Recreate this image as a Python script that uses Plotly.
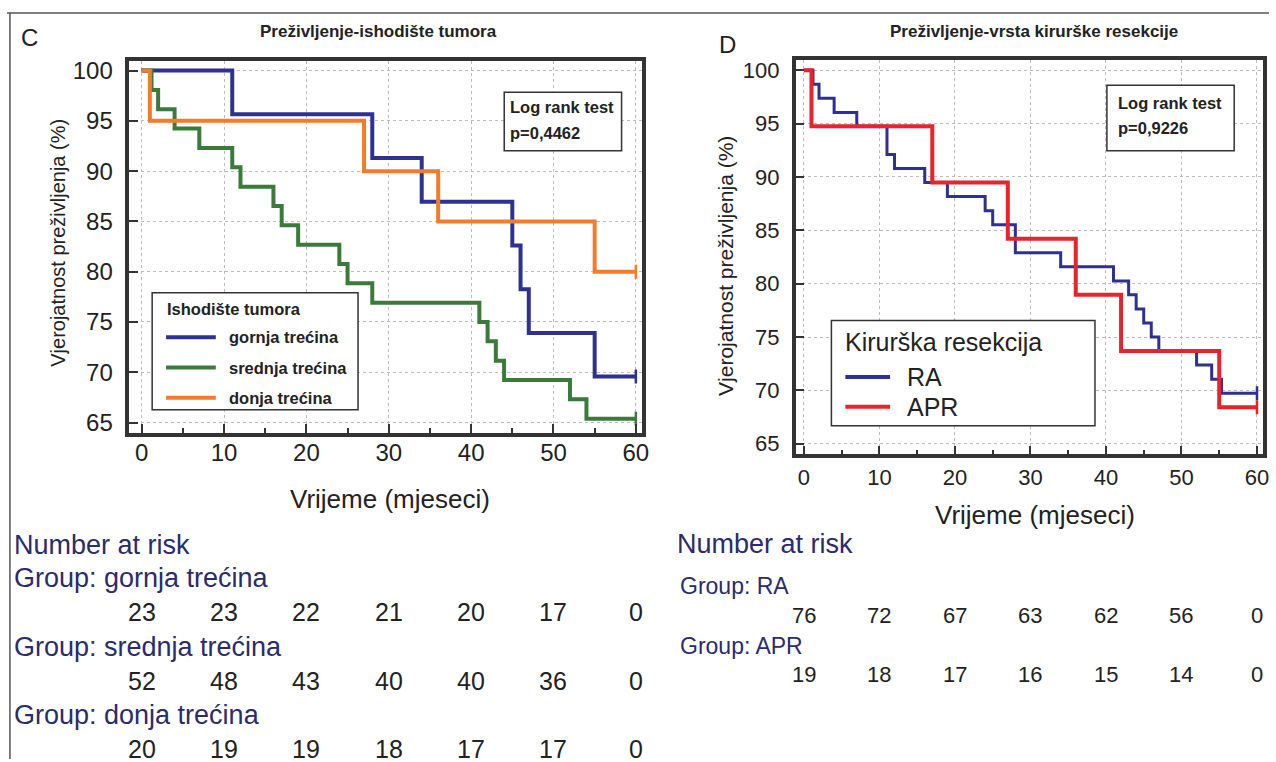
import plotly.graph_objects as go

W, H = 1276, 762

# ---------------- data ----------------
months_ticks = [0, 10, 20, 30, 40, 50, 60]

# Panel C: tumour location (KM step data, months / survival %)
gornja_t = [0, 11, 28, 34, 45, 46, 47, 55, 60]
gornja_s = [100, 95.65, 91.30, 86.96, 82.61, 78.26, 73.91, 69.57, 69.57]

srednja_t = [0, 1.2, 2, 4, 7, 11, 12, 16, 17, 19, 24, 25, 28, 41, 42, 43, 44, 52, 54, 60]
srednja_s = [100, 98.08, 96.15, 94.23, 92.31, 90.38, 88.46, 86.54, 84.62, 82.69,
             80.77, 78.85, 76.92, 75.0, 73.08, 71.15, 69.23, 67.31, 65.38, 65.38]

donja_t = [0, 1, 27, 36, 55, 60]
donja_s = [100, 95, 90, 85, 80, 80]

risk_gornja = [23, 23, 22, 21, 20, 17, 0]
risk_srednja = [52, 48, 43, 40, 40, 36, 0]
risk_donja = [20, 19, 19, 18, 17, 17, 0]

# Panel D: type of surgical resection
ra_t = [0, 1.2, 2, 4, 7, 11, 12, 16, 19, 24, 25, 28, 34, 41, 43, 44, 45, 46, 47, 52, 54, 55.3, 60]
ra_s = [100, 98.68, 97.37, 96.05, 94.74, 92.11, 90.79, 89.47, 88.16, 86.84, 85.53, 82.89,
        81.58, 80.26, 78.95, 77.63, 76.32, 75.0, 73.68, 72.37, 71.05, 69.74, 69.74]

apr_t = [0, 1, 17, 27, 36, 42, 55, 60]
apr_s = [100, 94.74, 89.47, 84.21, 78.95, 73.68, 68.42, 68.42]

risk_ra = [76, 72, 67, 63, 62, 56, 0]
risk_apr = [19, 18, 17, 16, 15, 14, 0]

names_c = ["gornja trećina", "srednja trećina", "donja trećina"]
names_d = ["RA", "APR"]
colors_c = ["#2e3192", "#3b7a3b", "#f47b2a"]
colors_d = ["#2e3192", "#e8232a"]

# ---------------- helpers ----------------
FONT = "Liberation Sans, Arial, sans-serif"
NARROW = "Liberation Sans Narrow, Arial Narrow, Liberation Sans, sans-serif"
NAVY = "#2b2b6e"
DARK = "#333333"


def X(px):
    return px / W


def Y(py):
    return 1 - py / H


fig = go.Figure()

series_c = [(gornja_t, gornja_s), (srednja_t, srednja_s), (donja_t, donja_s)]
for (t, s), nm, col in zip(series_c, names_c, colors_c):
    fig.add_trace(go.Scatter(x=t, y=s, mode="lines", line=dict(shape="hv", color=col, width=4),
                             name=nm, showlegend=False, xaxis="x", yaxis="y"))
    fig.add_trace(go.Scatter(x=t[-1:], y=s[-1:], mode="markers",
                             marker=dict(symbol="line-ns", size=10, line=dict(color=col, width=2.5)),
                             showlegend=False, hoverinfo="skip", xaxis="x", yaxis="y"))

series_d = [(ra_t, ra_s), (apr_t, apr_s)]
for (t, s), nm, col, lw in zip(series_d, names_d, colors_d, [3, 4]):
    fig.add_trace(go.Scatter(x=t, y=s, mode="lines", line=dict(shape="hv", color=col, width=lw),
                             name=nm, showlegend=False, xaxis="x2", yaxis="y2"))
    fig.add_trace(go.Scatter(x=t[-1:], y=s[-1:], mode="markers",
                             marker=dict(symbol="line-ns", size=10, line=dict(color=col, width=2.5)),
                             showlegend=False, hoverinfo="skip", xaxis="x2", yaxis="y2"))


def xaxis_cfg(domain, rng, fsize, anchor, standoff):
    return dict(domain=domain, range=rng, tickvals=months_ticks, ticks="inside", ticklen=9,
                tickwidth=2, tickcolor=DARK, showline=True, mirror=True, linewidth=3.5,
                linecolor=DARK, showgrid=True, gridcolor="#bdbdbd", griddash="dot", gridwidth=1,
                zeroline=False, tickfont=dict(family=FONT, size=fsize, color="#222"),
                ticklabelstandoff=standoff, anchor=anchor,
                minor=dict(dtick=5, tick0=0, ticks="inside", ticklen=5, tickwidth=2,
                           tickcolor=DARK, showgrid=False))


def yaxis_cfg(domain, fsize, anchor):
    return dict(domain=domain, range=[64, 101], tickvals=[65, 70, 75, 80, 85, 90, 95, 100],
                ticks="inside", ticklen=9, tickwidth=2, tickcolor=DARK, showline=True, mirror=True,
                linewidth=3.5, linecolor=DARK, showgrid=True, gridcolor="#bdbdbd", griddash="dot",
                gridwidth=1, zeroline=False, tickfont=dict(family=FONT, size=fsize, color="#222"),
                ticklabelstandoff=8, anchor=anchor)


fig.update_layout(
    width=W, height=H, margin=dict(l=0, r=0, t=0, b=0), autosize=False,
    paper_bgcolor="white", plot_bgcolor="white", showlegend=False,
    xaxis=xaxis_cfg([X(130), X(646)], [-1.5, 60.8], 24, "y", -4),
    yaxis=yaxis_cfg([Y(433), Y(58)], 24, "x"),
    xaxis2=xaxis_cfg([X(800), X(1270)], [-1.1, 60.8], 22, "y2", 0),
    yaxis2=yaxis_cfg([Y(455), Y(57)], 22, "x2"),
)

ann = []
shapes = []


def text(px, py, s, size, color="#222", bold=False, family=FONT, xanchor="left", angle=0, xref="paper", xval=None):
    ann.append(dict(x=xval if xval is not None else X(px), y=Y(py), xref=xref, yref="paper",
                    text=s, showarrow=False, xanchor=xanchor, yanchor="middle", textangle=angle,
                    font=dict(family=family, size=size, color=color,
                              weight="bold" if bold else "normal")))


def rect(x0, y0, x1, y1, width=1.5):
    shapes.append(dict(type="rect", xref="paper", yref="paper", x0=X(x0), x1=X(x1), y0=Y(y1), y1=Y(y0),
                       line=dict(color=DARK, width=width), fillcolor="white", layer="above"))


def seg(x0, y0, x1, y1, color, width):
    shapes.append(dict(type="line", xref="paper", yref="paper", x0=X(x0), x1=X(x1), y0=Y(y0), y1=Y(y1),
                       line=dict(color=color, width=width), layer="above"))


# outer frame
seg(10, 10, 10, 762, "#555", 1.5)
seg(7, 10, 1276, 10, "#555", 1.5)

# panel labels and titles
text(30, 35, "C", 24, color="#222", family=NARROW, xanchor="center")
text(732, 42, "D", 24, color="#222", family=NARROW, xanchor="center")
text(381, 29, "Preživljenje-ishodište tumora", 17, bold=True, family=NARROW, xanchor="center")
text(1040, 29, "Preživljenje-vrsta kirurške resekcije", 17, bold=True, family=NARROW, xanchor="center")

# axis titles
text(392, 500, "Vrijeme (mjeseci)", 26, xanchor="center")
text(1041, 516, "Vrijeme (mjeseci)", 26, xanchor="center")
text(58, 242, "Vjerojatnost preživljenja (%)", 20, xanchor="center", angle=-90)
text(730, 265, "Vjerojatnost preživljenja (%)", 21, xanchor="center", angle=-90)

# log rank boxes
rect(507, 90, 625, 149)
text(511, 105, "Log rank test", 16.5, bold=True)
text(511, 131, "p=0,4462", 16.5, bold=True)
rect(1113, 83, 1241, 149)
text(1122, 101, "Log rank test", 16.5, bold=True)
text(1122, 126, "p=0,9226", 16.5, bold=True)

# legend C
rect(153, 292, 360, 410)
text(166, 308, "Ishodište tumora", 16.5, bold=True)
for i, (nm, col) in enumerate(zip(names_c, colors_c)):
    yy = 337 + i * 30.5
    seg(167, yy, 217, yy, col, 4)
    text(228, yy, nm, 16.5, bold=True)

# legend D
rect(836, 320, 1101, 426)
text(848, 342, "Kirurška resekcija", 25)
for i, (nm, col) in enumerate(zip(names_d, colors_d)):
    yy = 377 + i * 30
    seg(850, yy, 895, yy, col, 4)
    text(910, yy, nm, 25)

# number at risk C
text(12, 546, "Number at risk", 27, color=NAVY)
rows_c = [risk_gornja, risk_srednja, risk_donja]
for i, (nm, r) in enumerate(zip(names_c, rows_c)):
    yl = 580 + i * 69
    text(12, yl, "Group: " + nm, 27, color=NAVY)
    for m, v in zip(months_ticks, r):
        text(0, yl + 34, str(v), 25, xanchor="center", xref="x", xval=m)

# number at risk D
text(679, 545, "Number at risk", 27, color=NAVY)
rows_d = [risk_ra, risk_apr]
for i, (nm, r) in enumerate(zip(names_d, rows_d)):
    yl = 588 + i * 60
    text(682, yl, "Group: " + nm, 23, color=NAVY)
    for m, v in zip(months_ticks, r):
        text(0, yl + 29, str(v), 22, xanchor="center", xref="x2", xval=m)

fig.update_layout(annotations=ann, shapes=shapes)
fig.write_html("out.html", config={"displayModeBar": False},
               post_script="document.body.style.margin='0';document.body.style.overflow='hidden';")
